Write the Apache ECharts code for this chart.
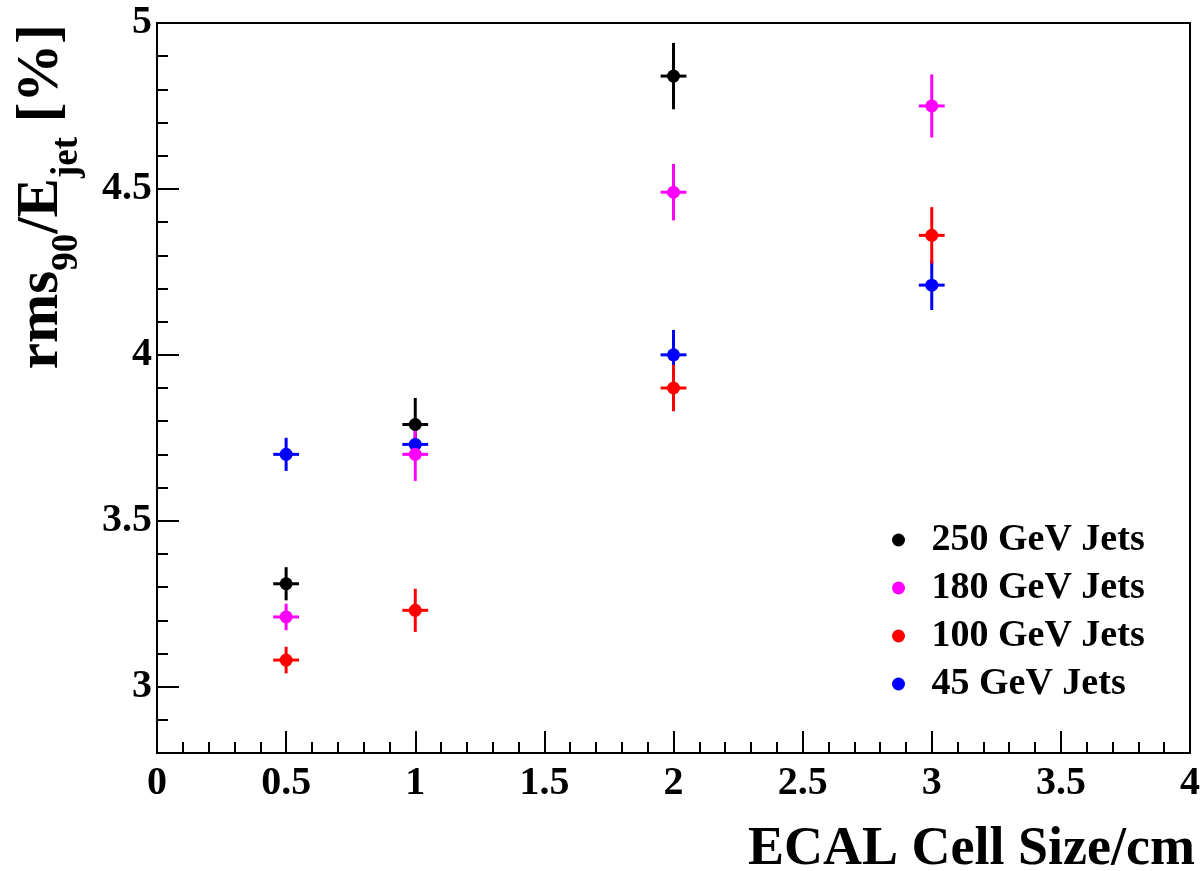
<!DOCTYPE html>
<html>
<head>
<meta charset="utf-8">
<script src="https://cdn.jsdelivr.net/npm/echarts@6/dist/echarts.min.js"></script>
<style>
html,body{margin:0;padding:0;background:#fff;}
#chart{width:1203px;height:871px;}
</style>
</head>
<body>
<div id="chart"></div>
<script>
// ECAL cell sizes (cm)
const cellSizes = [0.5, 1, 2, 3];
// rms90/Ejet [%] values and vertical errors per jet energy
const jets250 = [3.31, 3.79, 4.84, null];
const err250  = [0.05, 0.08, 0.10, null];
const jets180 = [3.21, 3.70, 4.49, 4.75];
const err180  = [0.04, 0.08, 0.085, 0.095];
const jets100 = [3.08, 3.23, 3.90, 4.36];
const err100  = [0.04, 0.065, 0.07, 0.085];
const jets45  = [3.70, 3.73, 4.00, 4.21];
const err45   = [0.05, 0.03, 0.075, 0.075];
const xErr = 0.05;
const seriesNames = ['250 GeV Jets', '180 GeV Jets', '100 GeV Jets', '45 GeV Jets'];
const xTicks = ['0', '0.5', '1', '1.5', '2', '2.5', '3', '3.5', '4'];
const yMajorTicks = [3, 3.5, 4, 4.5, 5];

const FONT = '"Liberation Serif", "Times New Roman", serif';
const chart = echarts.init(document.getElementById('chart'));

function pts(vals, errs) {
  const out = [];
  vals.forEach((v, i) => { if (v !== null) out.push([cellSizes[i], v, errs[i], xErr]); });
  return out;
}

function errSeries(name, color, data) {
  return {
    type: 'custom', name: name, data: data, z: 3, itemStyle: { color: color },
    renderItem: function (params, api) {
      const x = api.value(0), y = api.value(1), ey = api.value(2), ex = api.value(3);
      const t = api.coord([x, y + ey]), b = api.coord([x, y - ey]);
      const l = api.coord([x - ex, y]), r = api.coord([x + ex, y]);
      return { type: 'group', children: [
        { type: 'line', shape: { x1: t[0], y1: t[1], x2: b[0], y2: b[1] }, style: { stroke: color, lineWidth: 3 } },
        { type: 'line', shape: { x1: l[0], y1: l[1], x2: r[0], y2: r[1] }, style: { stroke: color, lineWidth: 3 } }
      ]};
    }
  };
}
function ptSeries(name, color, data) {
  return { type: 'scatter', name: name, data: data.map(d => [d[0], d[1]]), symbol: 'circle', symbolSize: 13,
           itemStyle: { color: color, opacity: 1 }, z: 3 };
}

const defs = [
  ['45 GeV Jets', '#0000ff', pts(jets45, err45)],
  ['250 GeV Jets', '#000000', pts(jets250, err250)],
  ['180 GeV Jets', '#ff00ff', pts(jets180, err180)],
  ['100 GeV Jets', '#ff0000', pts(jets100, err100)]
];
const series = [];
defs.forEach(d => { series.push(errSeries(d[0], d[1], d[2])); series.push(ptSeries(d[0], d[1], d[2])); });

const labelStyle = { color: '#000', fontFamily: FONT, fontWeight: 'bold', fontSize: 40 };

chart.setOption({
  animation: false,
  backgroundColor: '#fff',
  grid: { left: 157, right: 7, top: 23, bottom: 118, show: true, borderColor: '#000', borderWidth: 2, backgroundColor: 'transparent' },
  xAxis: {
    type: 'value', min: 0, max: 4, interval: 0.5,
    axisLine: { onZero: false, lineStyle: { color: '#000', width: 2 } },
    axisTick: { inside: true, length: 22, lineStyle: { color: '#000', width: 2 } },
    minorTick: { show: true, splitNumber: 5, length: 11, lineStyle: { color: '#000', width: 2 } },
    splitLine: { show: false },
    axisLabel: Object.assign({ margin: 11, formatter: v => xTicks[Math.round(v * 2)] }, labelStyle),
  },
  yAxis: [{
    type: 'value', min: 2.8, max: 5, interval: 0.1,
    axisLine: { onZero: false, lineStyle: { color: '#000', width: 2 } },
    axisTick: { inside: true, length: 11, lineStyle: { color: '#000', width: 2 } },
    splitLine: { show: false },
    axisLabel: Object.assign({ margin: 5, customValues: yMajorTicks, formatter: v => String(+v.toFixed(1)) }, labelStyle),
  }, {
    type: 'value', min: 2.8, max: 5, position: 'left',
    axisLine: { show: false },
    axisTick: { inside: true, length: 22, customValues: yMajorTicks, lineStyle: { color: '#000', width: 2 } },
    splitLine: { show: false },
    axisLabel: { show: false }
  }],
  legend: {
    orient: 'vertical', left: 887, top: 516, itemWidth: 56, itemHeight: 13, itemGap: 10,
    icon: 'circle', data: seriesNames,
    textStyle: { color: '#000', fontFamily: FONT, fontWeight: 'bold', fontSize: 38 }
  },
  graphic: [
    { type: 'text', right: 8, top: 823, style: { text: 'ECAL Cell Size/cm', fill: '#000',
      font: 'bold 54px ' + FONT } },
    { type: 'text', x: 42, y: 24, rotation: Math.PI / 2,
      style: { text: '{a|rms}{s|90}{a|/E}{s|jet}{a| [%]}', align: 'right', verticalAlign: 'middle', fill: '#000',
        rich: {
          a: { fontFamily: FONT, fontWeight: 'bold', fontSize: 59, lineHeight: 59, verticalAlign: 'middle' },
          s: { fontFamily: FONT, fontWeight: 'bold', fontSize: 37, lineHeight: 37, verticalAlign: 'bottom', padding: [0, 0, -14, 0] }
        } } }
  ],
  series: series
});
</script>
</body>
</html>
